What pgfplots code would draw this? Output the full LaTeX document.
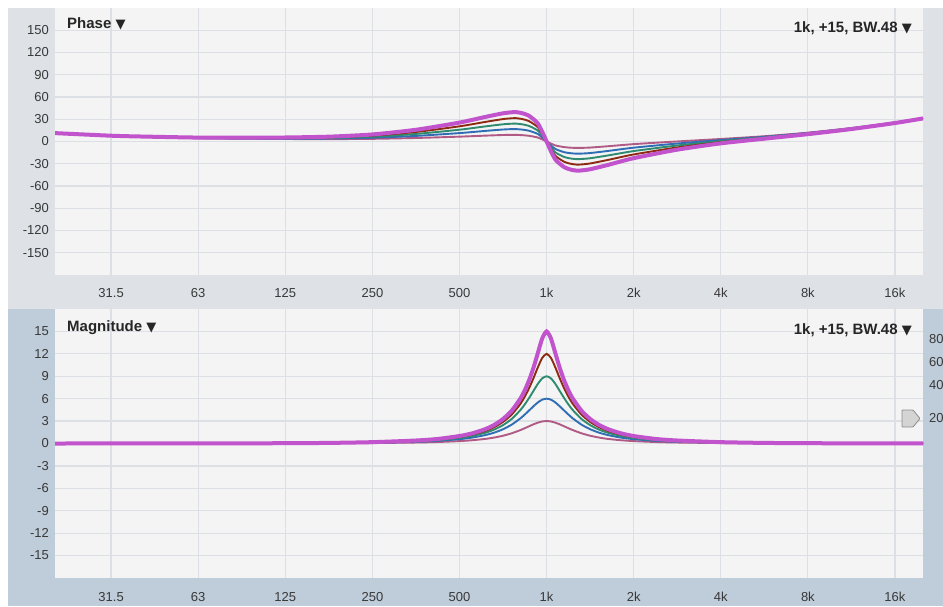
\documentclass[border=0pt]{standalone}
\usepackage{fontspec}
\setmainfont{Liberation Sans}
\newfontfamily\symfont{DejaVu Sans}
\usepackage{pgfplots}
\usepackage{pgfplotstable}
\pgfplotsset{compat=1.18}

\definecolor{plotbg}{HTML}{F4F4F4}
\definecolor{topstrip}{HTML}{DEE2E7}
\definecolor{botstrip}{HTML}{BFCCD9}
\definecolor{gridc}{HTML}{DCDFE3}
\definecolor{ticktext}{HTML}{383838}
\definecolor{cpink}{HTML}{B05A85}
\definecolor{cblue}{HTML}{2F6DB5}
\definecolor{cteal}{HTML}{2E8B70}
\definecolor{cbrown}{HTML}{8E2A12}
\definecolor{cmag}{HTML}{C154CC}

% phase (degrees) of the 1 kHz bell for +3, +6, +9, +12 and +15 dB
\pgfplotstableread{
f p3 p6 p9 p12 p15
20 11.06 11.12 11.18 11.24 11.3
31.25 7.41 7.51 7.6 7.7 7.8
40 6.15 6.29 6.42 6.55 6.7
62.5 4.43 4.65 4.86 5.07 5.3
100 3.62 4.02 4.4 4.78 5.2
125 3.35 3.87 4.36 4.85 5.4
176.8 3.18 4.02 4.82 5.62 6.5
250 3.58 5.08 6.5 7.93 9.5
353.6 4.74 7.54 10.2 12.86 15.8
500 6.54 11.34 15.9 20.46 25.5
615.6 7.92 14.32 20.4 26.48 33.2
707.1 8.77 16.17 23.2 30.23 38.0
757.9 8.99 16.69 24.0 31.32 39.4
784.6 8.95 16.71 24.08 31.45 39.6
812.3 8.68 16.28 23.5 30.72 38.7
840.9 8.27 15.57 22.5 29.44 37.1
870.6 7.64 14.44 20.9 27.36 34.5
901.3 6.6 12.5 18.1 23.71 29.9
933.0 5.34 10.14 14.7 19.26 24.3
965.9 2.88 5.48 7.95 10.42 13.15
1000 0 0 0 0 0
1035.3 -2.83 -5.43 -7.9 -10.37 -13.1
1071.8 -5.24 -10.04 -14.6 -19.16 -24.2
1109.6 -6.5 -12.4 -18.0 -23.61 -29.8
1148.7 -7.54 -14.34 -20.8 -27.26 -34.4
1189.2 -8.12 -15.42 -22.35 -29.29 -36.95
1231.1 -8.48 -16.08 -23.3 -30.52 -38.5
1274.6 -8.65 -16.41 -23.78 -31.15 -39.3
1319.5 -8.59 -16.29 -23.6 -30.92 -39.0
1414.2 -8.17 -15.57 -22.6 -29.63 -37.4
1624.5 -6.42 -12.82 -18.9 -24.98 -31.7
2000 -3.54 -8.34 -12.9 -17.46 -22.5
2828.4 0.06 -2.74 -5.4 -8.06 -11.0
4000 3.42 1.92 0.5 -0.93 -2.5
5656.9 7.12 6.28 5.48 4.68 3.8
8000 11.95 11.43 10.94 10.45 9.9
11313.7 18.14 17.8 17.48 17.16 16.8
16000 25.77 25.55 25.34 25.13 24.9
20000 31.81 31.63 31.46 31.29 31.1
}\phasedata

% magnitude (dB) of the same five settings
\pgfplotstableread{
f m3 m6 m9 m12 m15
20 0 0 0 0 0
62.5 0.00 0.01 0.01 0.01 0.01
125 0.01 0.02 0.03 0.04 0.04
176.8 0.03 0.05 0.06 0.07 0.08
250 0.06 0.10 0.13 0.15 0.18
353.6 0.13 0.23 0.29 0.34 0.40
420.4 0.20 0.36 0.45 0.53 0.61
500 0.32 0.58 0.74 0.87 1.00
554.8 0.44 0.80 1.02 1.20 1.37
615.6 0.62 1.14 1.45 1.70 1.94
659.8 0.80 1.46 1.87 2.20 2.50
707.1 1.04 1.91 2.46 2.89 3.28
757.9 1.37 2.53 3.29 3.88 4.39
812.3 1.80 3.37 4.48 5.32 6.03
840.9 2.05 3.88 5.24 6.28 7.13
870.6 2.31 4.43 6.11 7.43 8.49
901.3 2.57 4.99 7.05 8.76 10.16
933.0 2.79 5.50 7.99 10.20 12.11
965.9 2.95 5.87 8.72 11.46 14.06
1000 3 6 9 12 15
1035.3 2.95 5.87 8.72 11.46 14.06
1071.8 2.79 5.50 7.99 10.20 12.11
1109.6 2.57 4.99 7.05 8.76 10.16
1148.7 2.31 4.43 6.11 7.43 8.49
1189.2 2.05 3.88 5.24 6.28 7.13
1231.1 1.80 3.37 4.48 5.32 6.03
1319.5 1.37 2.53 3.29 3.88 4.39
1414.2 1.04 1.91 2.46 2.89 3.28
1515.7 0.80 1.46 1.87 2.20 2.50
1624.5 0.62 1.14 1.45 1.70 1.94
1802.5 0.44 0.80 1.02 1.20 1.37
2000 0.32 0.58 0.74 0.87 1.00
2378.4 0.20 0.36 0.45 0.53 0.61
2828.4 0.13 0.23 0.29 0.34 0.40
4000 0.06 0.10 0.13 0.15 0.18
5656.9 0.03 0.05 0.06 0.07 0.08
8000 0.01 0.02 0.03 0.04 0.04
16000 0.00 0.01 0.01 0.01 0.01
20000 0 0 0.01 0.01 0.01
}\magdata

\newcommand\tickfont{\fontsize{13}{15}\selectfont}
\newcommand\headfont{\fontsize{15}{17}\selectfont\bfseries}
\newcommand\dropmark{{\symfont\fontsize{13}{14}\selectfont ▼}}

\begin{document}
\begin{tikzpicture}[x=1pt, y=1pt]
  % panel frames
  \fill[topstrip] (8,297) rectangle (943,598);
  \fill[botstrip] (8,0) rectangle (943,297);

  % phase panel
  \begin{axis}[at={(55pt,331pt)}, anchor=south west,
      scale only axis, width=868pt, height=267pt,
      xmode=log, xmin=20, xmax=20000, ymin=-180, ymax=180,
      axis background/.style={fill=plotbg},
      axis line style={draw=none},
      major tick length=0pt,
      xmajorgrids, ymajorgrids,
      major grid style={draw=gridc, line width=1.2pt},
      xtick={31.25,62.5,125,250,500,1000,2000,4000,8000,16000},
      minor xtick={},
      xticklabels={31.5,63,125,250,500,1k,2k,4k,8k,16k},
      xticklabel style={anchor=base, yshift=-23pt, font=\tickfont, text=ticktext},
      ytick={-150,-120,-90,-60,-30,0,30,60,90,120,150},
      yticklabels={-150,-120,-90,-60,-30,0,30,60,90,120,150},
      yticklabel style={anchor=east, inner sep=0pt, xshift=-6pt, font=\tickfont, text=ticktext}]
    \addplot[cpink, line width=1.9pt, no markers, smooth, tension=0.4]  table[x=f, y=p3]  {\phasedata};
    \addplot[cblue, line width=1.9pt, no markers, smooth, tension=0.4]  table[x=f, y=p6]  {\phasedata};
    \addplot[cteal, line width=1.9pt, no markers, smooth, tension=0.4]  table[x=f, y=p9]  {\phasedata};
    \addplot[cbrown, line width=1.9pt, no markers, smooth, tension=0.4] table[x=f, y=p12] {\phasedata};
    \addplot[cmag, line width=4pt, no markers, smooth, tension=0.4]     table[x=f, y=p15] {\phasedata};
  \end{axis}

  % magnitude panel
  \begin{axis}[at={(55pt,28pt)}, anchor=south west,
      scale only axis, width=868pt, height=269pt,
      xmode=log, xmin=20, xmax=20000, ymin=-18, ymax=18,
      axis background/.style={fill=plotbg},
      axis line style={draw=none},
      major tick length=0pt,
      xmajorgrids, ymajorgrids,
      major grid style={draw=gridc, line width=1.2pt},
      xtick={31.25,62.5,125,250,500,1000,2000,4000,8000,16000},
      minor xtick={},
      xticklabels={31.5,63,125,250,500,1k,2k,4k,8k,16k},
      xticklabel style={anchor=base, yshift=-23pt, font=\tickfont, text=ticktext},
      ytick={-15,-12,-9,-6,-3,0,3,6,9,12,15},
      yticklabels={-15,-12,-9,-6,-3,0,3,6,9,12,15},
      yticklabel style={anchor=east, inner sep=0pt, xshift=-6pt, font=\tickfont, text=ticktext},
      extra y ticks={0}, extra y tick labels={},
      extra y tick style={grid style={draw=black!40, line width=0.9pt}}]
    \addplot[cpink, line width=1.9pt, no markers, smooth, tension=0.4]  table[x=f, y=m3]  {\magdata};
    \addplot[cblue, line width=1.9pt, no markers, smooth, tension=0.4]  table[x=f, y=m6]  {\magdata};
    \addplot[cteal, line width=1.9pt, no markers, smooth, tension=0.4]  table[x=f, y=m9]  {\magdata};
    \addplot[cbrown, line width=1.9pt, no markers, smooth, tension=0.4] table[x=f, y=m12] {\magdata};
    \addplot[cmag, line width=4pt, no markers, smooth, tension=0.4]     table[x=f, y=m15] {\magdata};
  \end{axis}

  % panel headings
  \node[anchor=base west, inner sep=0pt, text=black!85] at (67,577) {\headfont Phase \dropmark};
  \node[anchor=base east, inner sep=0pt, text=black!85] at (912,573) {\headfont 1k, +15, BW.48 \dropmark};
  \node[anchor=base west, inner sep=0pt, text=black!85] at (67,274) {\headfont Magnitude \dropmark};
  \node[anchor=base east, inner sep=0pt, text=black!85] at (912,271) {\headfont 1k, +15, BW.48 \dropmark};

  % secondary scale on the right edge
  \foreach \v/\yy in {80/267, 60/244, 40/221, 20/188}
    \node[anchor=west, inner sep=0pt, text=ticktext, font=\tickfont] at (929,\yy) {\v};
  \filldraw[fill=black!17, draw=black!45, line width=0.8pt, rounded corners=0.8pt]
    (902,196) -- (913,196) -- (920,187.5) -- (913,179) -- (902,179) -- cycle;

  \pgfresetboundingbox
  \useasboundingbox (0,0) rectangle (943,606);
\end{tikzpicture}
\end{document}
